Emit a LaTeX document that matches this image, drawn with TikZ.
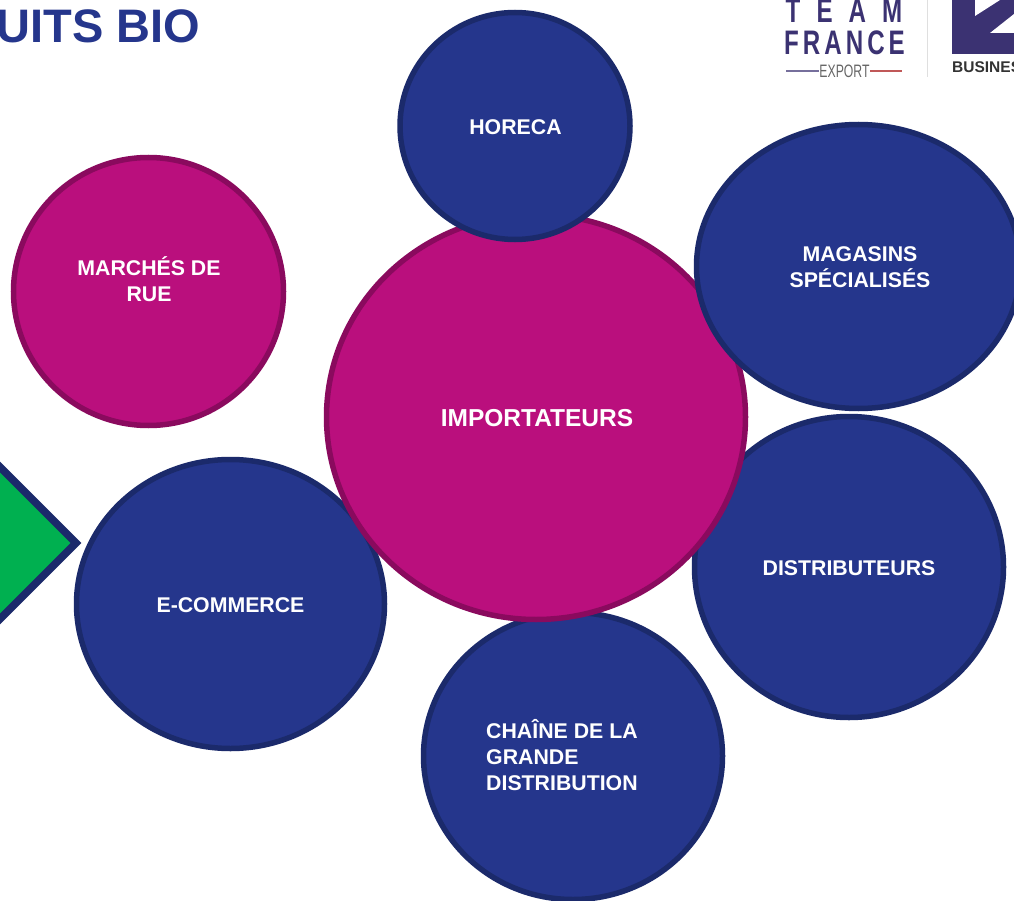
\documentclass[tikz,border=0pt]{standalone}
\usepackage{fontspec}
\setmainfont{Liberation Sans}
\usetikzlibrary{shapes.geometric}
\definecolor{navyfill}{HTML}{25368C}
\definecolor{navyedge}{HTML}{1B2A6B}
\definecolor{pinkfill}{HTML}{BA0F7D}
\definecolor{pinkedge}{HTML}{8A0A5E}
\definecolor{greenfill}{HTML}{00B050}
\definecolor{logopurple}{HTML}{3B3272}
\tikzset{
  bubble/.style={ellipse,draw,line width=5.5pt,inner sep=0pt},
  navybub/.style={bubble,fill=navyfill,draw=navyedge},
  pinkbub/.style={bubble,fill=pinkfill,draw=pinkedge},
  bublabel/.style={text=white,font=\bfseries\fontsize{21.3}{25.6}\selectfont,align=center},
  logotext/.style={text=logopurple,font=\bfseries\fontsize{34}{34}\selectfont,inner sep=0pt,anchor=center}
}
\begin{document}
\begin{tikzpicture}[x=1pt,y=-1pt]
\useasboundingbox (0,0) rectangle (1014,901);
\clip (0,0) rectangle (1014,901);
\fill[white] (0,0) rectangle (1014,901);
% title
\node[anchor=base east,inner sep=0pt,text=navyfill,font=\bfseries\fontsize{47}{47}\selectfont] (title) at (200.5,43) {UITS BIO};
% green arrow
\filldraw[fill=greenfill,draw=navyedge,line width=7.5pt,miter limit=10] (-50,417) -- (76,543) -- (-50,669) -- cycle;
% bubbles
\node[navybub,minimum width=309pt,minimum height=301pt] (dist) at (849,567) {};
\node[navybub,minimum width=308pt,minimum height=289pt] (ecom) at (230.5,604) {};
\node[navybub,minimum width=299pt,minimum height=287pt] (chaine) at (573,756) {};
\node[pinkbub,minimum width=270pt,minimum height=268pt] (marches) at (148.5,291.5) {};
\node[pinkbub,minimum width=419pt,minimum height=405pt] (imp) at (536,417) {};
\node[navybub,minimum width=230pt,minimum height=227pt] (horeca) at (515,126) {};
\node[navybub,minimum width=324pt,minimum height=284pt] (mag) at (858.5,266.5) {};
% labels
\node[bublabel,font=\bfseries\fontsize{24.5}{28}\selectfont] (implabel) at (537,418) {IMPORTATEURS};
\node[bublabel] (horecalabel) at (515.5,127) {HORECA};
\node[bublabel] (maglabel) at (860,267) {MAGASINS\\SPÉCIALISÉS};
\node[bublabel] (marcheslabel) at (149,279) {MARCHÉS DE\\RUE};
\node[bublabel] (distlabel) at (849,568.5) {DISTRIBUTEURS};
\node[bublabel] (ecomlabel) at (230.5,605) {E-COMMERCE};
\node[bublabel,align=left,anchor=west,inner sep=0pt] (chainelabel) at (486,755) {CHAÎNE DE LA\\GRANDE\\DISTRIBUTION};
% logo
\node[logotext,xscale=0.71] (team) at (844,11) {T\,\,\,\,E\,\,\,\,A\,\,\,\,M};
\node[logotext,xscale=0.71] (france) at (844.5,43) {F\,R\,A\,N\,C\,E};
\node[text=gray!80!black,inner sep=0pt,font=\fontsize{18}{18}\selectfont,xscale=0.68] (export) at (844.5,71) {EXPORT};
\draw[logopurple!70,line width=1.5pt] (786,71) -- (819,71);
\draw[red!45!gray!90!white,line width=1.5pt] (870,71) -- (902,71);
\draw[gray!25,line width=1pt] (927,0) -- (927,77);
\fill[logopurple] (952,0) rectangle (1014,54);
\fill[white] (975,0) -- (975,16) -- (1000,0) -- cycle;
\fill[white] (1014,14) -- (990,33) -- (1014,33) -- cycle;
\node[anchor=base west,inner sep=0pt,text=black!80,font=\bfseries\fontsize{15.5}{16}\selectfont] (bus) at (952,73) {BUSINESS};
\end{tikzpicture}
\end{document}
